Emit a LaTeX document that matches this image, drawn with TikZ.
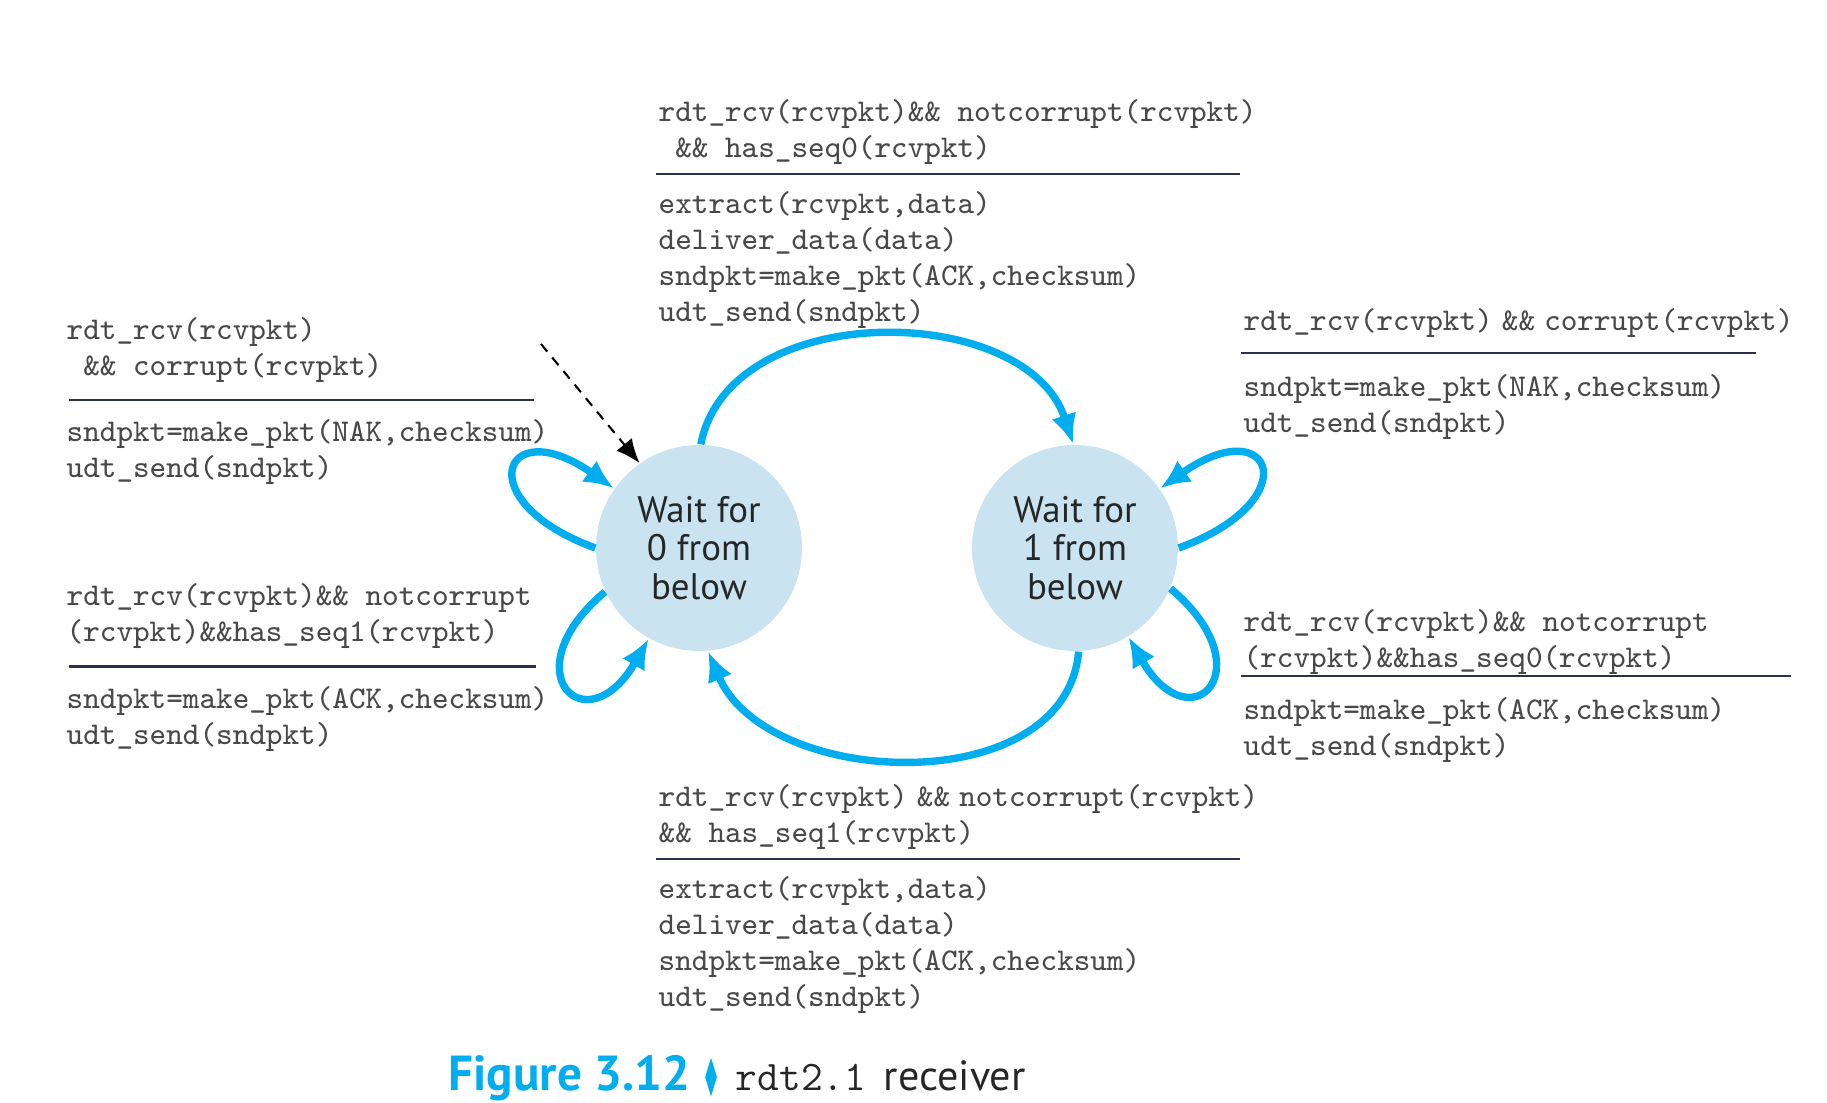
\documentclass[tikz,border=0pt]{standalone}
\usepackage{amssymb,graphicx}
\usepackage{fontspec}
\newfontfamily\sansfont{PT Sans}
\usetikzlibrary{arrows.meta}

\definecolor{fsmblue}{RGB}{0,174,239}
\definecolor{statefill}{RGB}{201,228,240}
\definecolor{codegray}{RGB}{72,72,72}
\definecolor{rulecol}{RGB}{45,48,75}

\tikzset{
  fsmstate/.style={circle,fill=statefill,minimum size=2.06cm,inner sep=0pt,align=center,
    font=\fontsize{10.5}{10.9}\selectfont\sansfont,text=black!85},
  trans/.style={line width=2.1pt,fsmblue,-{Latex[length=0.3cm,width=0.26cm]}},
  code/.style={anchor=north west,inner sep=0pt,align=left,text=codegray,yshift=-1pt,
    font=\fontsize{9}{10.25}\selectfont\ttfamily},
  rule/.style={line width=0.7pt,rulecol},
}
\newcommand{\nsp}{\hspace{2.6pt}}

\begin{document}
\begin{tikzpicture}
\useasboundingbox (0,0) rectangle (18.27,11.03);

% states
\node[fsmstate] (s0) at (6.99,5.55) {Wait for\\0 from\\below};
\node[fsmstate] (s1) at (10.75,5.55) {Wait for\\1 from\\below};

% initial arrow
\coordinate (init) at (5.41,7.59);
\draw[dashed,dash pattern=on 2.8pt off 2.2pt,line width=0.6pt,-{Latex[length=0.24cm,width=0.2cm]}] (init) -- (s0.125);

% transitions between states
\draw[trans] (s0.89) .. controls +(79:1.5) and +(108:1.5) .. (s1.91);
\draw[trans] (s1.-88) .. controls +(265:1.5) and +(-67:1.5) .. (s0.-85);

% self loops
\draw[trans] (s0.180) .. controls +(160:1.36) and +(145:1.36) .. (s0.145);
\draw[trans] (s0.205) .. controls +(220:1.25) and +(240:1.25) .. (s0.241);
\draw[trans] (s1.0) .. controls +(20:1.38) and +(35:1.38) .. (s1.35);
\draw[trans] (s1.-23) .. controls +(-40:1.25) and +(-60:1.25) .. (s1.-59);

% top: s0 -> s1
\node[code] (topcond) at (6.58,10.08) {rdt\_rcv(rcvpkt)\&\& notcorrupt(rcvpkt)\\~\&\& has\_seq0(rcvpkt)};
\draw[rule] (6.56,9.29) -- (12.40,9.29);
\node[code] (topact) at (6.58,9.16) {extract(rcvpkt,data)\\deliver\_data(data)\\sndpkt=make\_pkt(ACK,checksum)\\udt\_send(sndpkt)};

% right top: s1 corrupt
\node[code] (rtcond) at (12.43,7.99) {rdt\_rcv(rcvpkt)\nsp\&\&\nsp corrupt(rcvpkt)};
\draw[rule] (12.41,7.50) -- (17.56,7.50);
\node[code] (rtact) at (12.43,7.33) {sndpkt=make\_pkt(NAK,checksum)\\udt\_send(sndpkt)};

% left top: s0 corrupt
\node[code] (ltcond) at (0.66,7.90) {rdt\_rcv(rcvpkt)\\~\&\& corrupt(rcvpkt)};
\draw[rule] (0.69,7.03) -- (5.34,7.03);
\node[code] (ltact) at (0.66,6.875) {sndpkt=make\_pkt(NAK,checksum)\\udt\_send(sndpkt)};

% left bottom: s0 duplicate
\node[code] (lbcond) at (0.66,5.24) {rdt\_rcv(rcvpkt)\&\& notcorrupt\\(rcvpkt)\&\&has\_seq1(rcvpkt)};
\draw[rule] (0.69,4.365) -- (5.36,4.365);
\node[code] (lbact) at (0.66,4.21) {sndpkt=make\_pkt(ACK,checksum)\\udt\_send(sndpkt)};

% right bottom: s1 duplicate
\node[code] (rbcond) at (12.43,4.98) {rdt\_rcv(rcvpkt)\&\& notcorrupt\\(rcvpkt)\&\&has\_seq0(rcvpkt)};
\draw[rule] (12.41,4.27) -- (17.91,4.27);
\node[code] (rbact) at (12.43,4.10) {sndpkt=make\_pkt(ACK,checksum)\\udt\_send(sndpkt)};

% bottom: s1 -> s0
\node[code] (botcond) at (6.58,3.23) {rdt\_rcv(rcvpkt)\nsp\&\&\nsp notcorrupt(rcvpkt)\\\&\& has\_seq1(rcvpkt)};
\draw[rule] (6.56,2.44) -- (12.40,2.44);
\node[code] (botact) at (6.58,2.31) {extract(rcvpkt,data)\\deliver\_data(data)\\sndpkt=make\_pkt(ACK,checksum)\\udt\_send(sndpkt)};

% caption
\node[anchor=base west,inner sep=0pt,font=\fontsize{12}{14}\selectfont\sansfont,text=black!85] (caption) at (4.48,0.12)
  {{\fontsize{14}{16}\selectfont\bfseries\color{fsmblue}Figure 3.12}\hspace{4pt}{\color{fsmblue}\scalebox{0.5}[1.05]{$\blacklozenge$}}\hspace{5pt}{\ttfamily rdt2.1}\hspace{5pt}receiver};
\end{tikzpicture}
\end{document}
